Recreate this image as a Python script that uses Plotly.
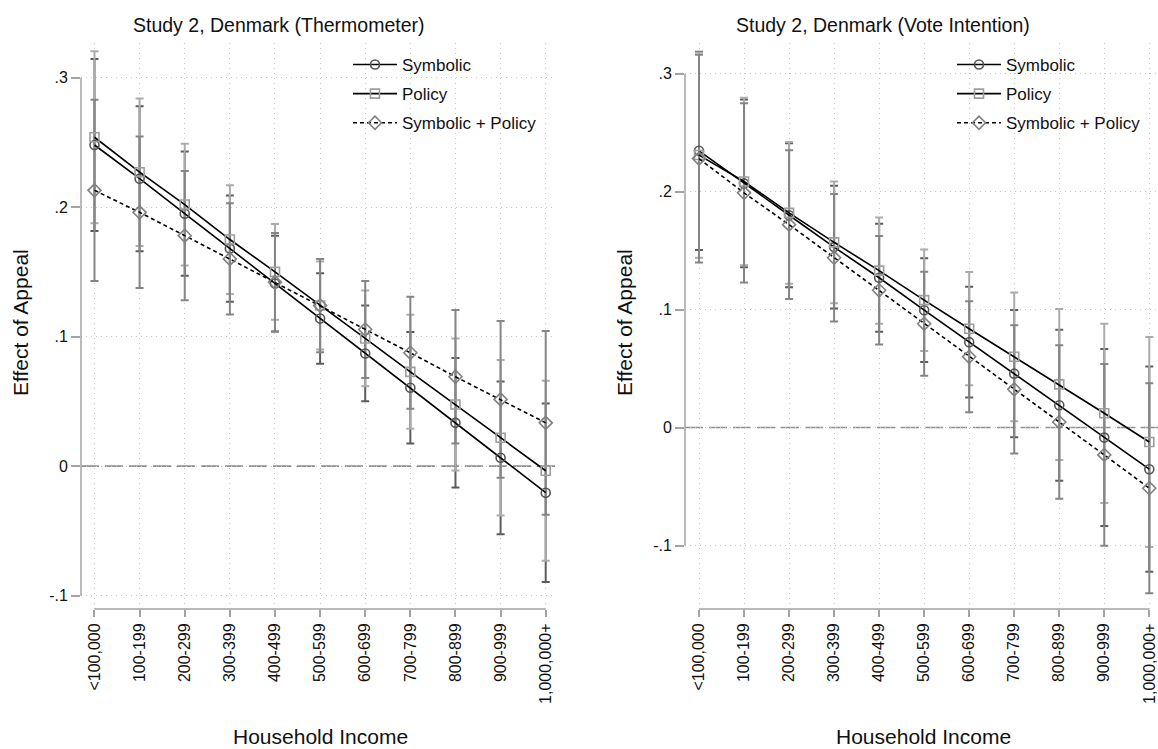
import plotly.graph_objects as go

# ---------------- data ----------------
categories = ["<100,000", "100-199", "200-299", "300-399", "400-499", "500-599",
              "600-699", "700-799", "800-899", "900-999", "1,000,000+"]

# Study 2, Denmark (Thermometer)
thermo_symbolic = [0.248, 0.222, 0.195, 0.168, 0.141, 0.114, 0.087, 0.0605, 0.0334, 0.0064, -0.0206]
thermo_symbolic_ci = [0.0665, 0.056, 0.048, 0.041, 0.037, 0.035, 0.037, 0.043, 0.050, 0.059, 0.069]
thermo_policy = [0.254, 0.227, 0.202, 0.175, 0.150, 0.124, 0.0986, 0.0728, 0.0476, 0.0219, -0.0036]
thermo_policy_ci = [0.0665, 0.057, 0.047, 0.042, 0.037, 0.034, 0.037, 0.044, 0.051, 0.060, 0.0695]
thermo_both = [0.213, 0.196, 0.178, 0.160, 0.142, 0.124, 0.1055, 0.0875, 0.069, 0.0515, 0.0334]
thermo_both_ci = [0.070, 0.0585, 0.050, 0.043, 0.038, 0.036, 0.0374, 0.0432, 0.0515, 0.0605, 0.071]

# Study 2, Denmark (Vote Intention)
vote_symbolic = [0.2346, 0.207, 0.180, 0.153, 0.127, 0.0995, 0.0724, 0.0457, 0.0189, -0.0085, -0.0353]
vote_symbolic_ci = [0.084, 0.071, 0.061, 0.052, 0.0457, 0.044, 0.047, 0.054, 0.064, 0.075, 0.087]
vote_policy = [0.231, 0.2086, 0.182, 0.157, 0.133, 0.108, 0.0838, 0.060, 0.0366, 0.0121, -0.0122]
vote_policy_ci = [0.087, 0.071, 0.060, 0.0516, 0.045, 0.043, 0.048, 0.0546, 0.064, 0.076, 0.089]
vote_both = [0.228, 0.199, 0.172, 0.144, 0.1164, 0.088, 0.060, 0.0324, 0.0047, -0.0232, -0.0514]
vote_both_ci = [0.088, 0.076, 0.063, 0.054, 0.046, 0.044, 0.047, 0.0544, 0.065, 0.077, 0.089]

series_names = ["Symbolic", "Policy", "Symbolic + Policy"]
y_tickvals = [-0.1, 0.0, 0.1, 0.2, 0.3]
y_ticktext = ["-.1", "0", ".1", ".2", ".3"]
panel_titles = ["Study 2, Denmark (Thermometer)", "Study 2, Denmark (Vote Intention)"]
x_title = "Household Income"
y_title = "Effect of Appeal"

# ---------------- styling ----------------
W, H = 1158, 749
FONT = "Liberation Sans, Arial, Helvetica, sans-serif"
AX_GRAY = "#a3a3a3"
GRID = "#c8c8c8"
ci_colors = ["#5c5c5c", "#ababab", "#858585"]
marker_colors = ["#555555", "#9e9e9e", "#808080"]
marker_symbols = ["circle-open", "square-open", "diamond-open"]
marker_sizes = [9, 9, 10]
line_dashes = ["solid", "solid", "4px,3px"]


def fx(p):
    return p / W


def fy(p):
    return 1 - p / H


panels = [
    dict(data=[(thermo_symbolic, thermo_symbolic_ci), (thermo_policy, thermo_policy_ci),
               (thermo_both, thermo_both_ci)],
         xdom=(81, 556), xrange=(-0.299, 10.228), yrange=(-0.1104, 0.3268),
         title_x=278.6, ytitle_x=20, xtitle_x=320, legend_x=348, legend="legend"),
    dict(data=[(vote_symbolic, vote_symbolic_ci), (vote_policy, vote_policy_ci),
               (vote_both, vote_both_ci)],
         xdom=(685, 1158), xrange=(-0.311, 10.193), yrange=(-0.1538, 0.326),
         title_x=882.5, ytitle_x=624, xtitle_x=924, legend_x=952, legend="legend2"),
]

fig = go.Figure()
annotations = []
shapes = []
layout = {}

for i, p in enumerate(panels):
    xa = "x" if i == 0 else "x2"
    ya = "y" if i == 0 else "y2"
    xkey = "xaxis" if i == 0 else "xaxis2"
    ykey = "yaxis" if i == 0 else "yaxis2"

    # confidence intervals first (below the lines)
    for k, (vals, ci) in enumerate(p["data"]):
        fig.add_trace(go.Scatter(
            x=categories, y=vals, mode="markers", xaxis=xa, yaxis=ya,
            marker=dict(size=1, color="rgba(0,0,0,0)"),
            error_y=dict(type="data", array=ci, visible=True, color=ci_colors[k],
                         thickness=2, width=4),
            showlegend=False, hoverinfo="skip"))
    for k, (vals, ci) in enumerate(p["data"]):
        fig.add_trace(go.Scatter(
            x=categories, y=vals, mode="lines+markers", xaxis=xa, yaxis=ya,
            name=series_names[k], legend=p["legend"], legendgroup=f"{i}{k}",
            line=dict(color="black", width=1.6, dash=line_dashes[k]),
            marker=dict(symbol=marker_symbols[k], size=marker_sizes[k],
                        color=marker_colors[k], line=dict(width=1.6, color=marker_colors[k])),
            hoverinfo="skip"))

    layout[xkey] = dict(
        domain=[fx(p["xdom"][0]), fx(p["xdom"][1])], anchor=ya,
        type="category", categoryorder="array", categoryarray=categories,
        range=list(p["xrange"]), tickangle=-90, ticks="outside", ticklen=7,
        tickwidth=1.5, tickcolor=AX_GRAY, showline=False, zeroline=False,
        showgrid=True, gridcolor=GRID, gridwidth=1, griddash="1px,4px",
        tickfont=dict(family=FONT, size=16, color="#111111"), automargin=False)
    layout[ykey] = dict(
        domain=[fy(609), fy(43)], anchor=xa, range=list(p["yrange"]),
        tickvals=y_tickvals, ticktext=y_ticktext, ticks="outside", ticklen=9,
        tickwidth=1.5, tickcolor=AX_GRAY, showline=False, zeroline=False,
        showgrid=True, gridcolor=GRID, gridwidth=1, griddash="1px,4px",
        tickfont=dict(family=FONT, size=16, color="#111111"), automargin=False)

    y0, y1 = p["yrange"]
    x0, x1 = p["xrange"]
    # Stata-style axis lines spanning the tick range
    shapes.append(dict(type="line", xref=f"{xa} domain", yref=f"{ya} domain",
                       x0=0, x1=0,
                       y0=(min(y_tickvals) - y0) / (y1 - y0),
                       y1=(max(y_tickvals) - y0) / (y1 - y0),
                       line=dict(color=AX_GRAY, width=1.5), layer="above"))
    shapes.append(dict(type="line", xref=f"{xa} domain", yref=f"{ya} domain",
                       y0=0, y1=0,
                       x0=(0 - x0) / (x1 - x0),
                       x1=(len(categories) - 1 - x0) / (x1 - x0),
                       line=dict(color=AX_GRAY, width=1.5), layer="above"))
    # zero reference line
    shapes.append(dict(type="line", xref=f"{xa} domain", yref=f"{ya} domain",
                       x0=0, x1=1,
                       y0=(0 - y0) / (y1 - y0), y1=(0 - y0) / (y1 - y0),
                       line=dict(color="#8f8f8f", width=1.6, dash="18px,6px"),
                       layer="below"))

    annotations.append(dict(text=panel_titles[i], xref="paper", yref="paper",
                            x=fx(p["title_x"]), y=fy(25), xanchor="center", yanchor="middle",
                            showarrow=False, font=dict(family=FONT, size=19.5, color="#111111")))
    annotations.append(dict(text=y_title, xref="paper", yref="paper", textangle=-90,
                            x=fx(p["ytitle_x"]), y=fy(323), xanchor="center", yanchor="middle",
                            showarrow=False, font=dict(family=FONT, size=21, color="#111111")))
    annotations.append(dict(text=x_title, xref="paper", yref="paper",
                            x=fx(p["xtitle_x"]), y=fy(736), xanchor="center", yanchor="middle",
                            showarrow=False, font=dict(family=FONT, size=21, color="#111111")))
    layout[p["legend"]] = dict(x=fx(p["legend_x"]), y=fy(47), xanchor="left", yanchor="top",
                               font=dict(family=FONT, size=17, color="#111111"),
                               itemwidth=44, bgcolor="rgba(0,0,0,0)", traceorder="grouped",
                               tracegroupgap=4)

fig.update_layout(
    width=W, height=H, margin=dict(l=0, r=0, t=0, b=0),
    paper_bgcolor="white", plot_bgcolor="white",
    font=dict(family=FONT, color="#111111"),
    annotations=annotations, shapes=shapes, hovermode=False, **layout)

fig.write_html("out.html", config={"displayModeBar": False},
               post_script="document.body.style.margin='0px';document.body.style.padding='0px';")
